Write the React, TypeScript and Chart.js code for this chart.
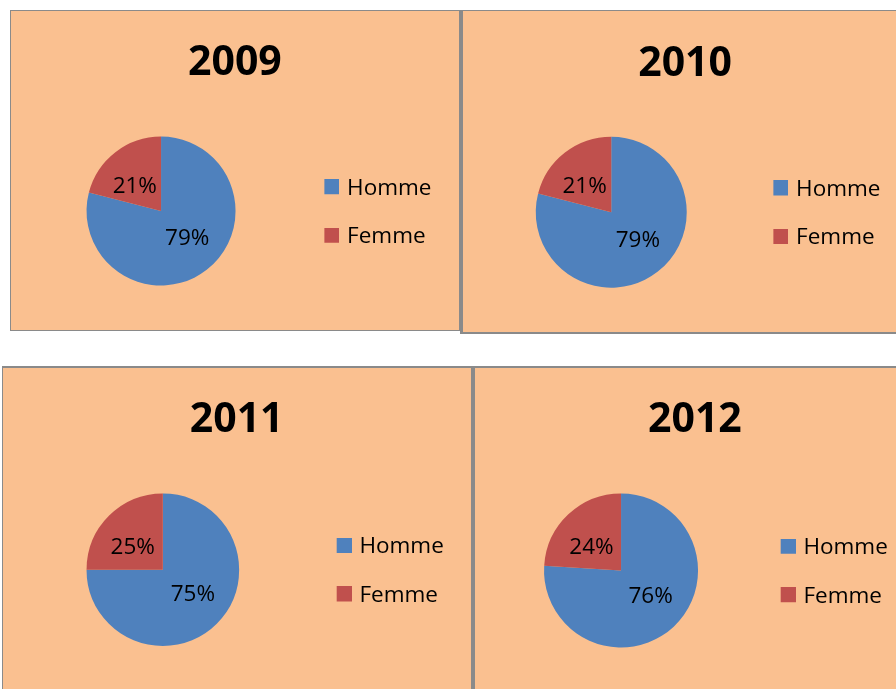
import React, { useEffect, useRef } from 'react';
import { Chart, registerables } from 'chart.js';

Chart.register(...registerables);

// ---- data ----
const years = ['2009', '2010', '2011', '2012'];
const categories = ['Homme', 'Femme'];
const hommePct = [79, 79, 75, 76];
const femmePct = [21, 21, 25, 24];

// ---- styles ----
const sliceColors = ['#4F81BD', '#C0504D'];
const PANEL_BG = '#FAC090';
const BORDER = '#8A8A8A';
const FONT = '"Open Sans", "Noto Sans", sans-serif';
const LABEL_SIZE = 22.5;
const TITLE_SIZE = 41;
const LABEL_ANGLE_SHIFT = (-7 * Math.PI) / 180;
const SWATCH = 15;          // legend square size
const SWATCH_SLOT = 16;     // legend marker slot width
const SWATCH_SHIFT = SWATCH_SLOT / 2 - 4;
const LEGEND_DROP = 3;      // moves legend text down relative to its square

// panel boxes (page layout) and chart paddings
const PANELS = [
  { left: 10, top: 10, w: 448, h: 319, bw: [1, 1, 1, 1], pad: { left: 17.25, right: 17.5, bottom: 44.5 }, titlePad: { top: 28, bottom: 48.3 } },
  { left: 460, top: 10, w: 447, h: 321, bw: [1, 1, 2, 3], pad: { left: 16.65, right: 19.5, bottom: 44.3 }, titlePad: { top: 28.3, bottom: 48.2 } },
  { left: 2, top: 366, w: 468, h: 332, bw: [2, 1, 1, 1], pad: { left: 16.55, right: 17.2, bottom: 54 }, titlePad: { top: 28, bottom: 48.2 } },
  { left: 472, top: 366, w: 448, h: 332, bw: [2, 1, 1, 3], pad: { left: 16.95, right: 25.2, bottom: 52.5 }, titlePad: { top: 28, bottom: 48.3 } },
];

function makeSwatch(color: string): HTMLCanvasElement {
  const c = document.createElement('canvas');
  const w = SWATCH + 2 * SWATCH_SHIFT;
  c.width = w;
  c.height = SWATCH + LEGEND_DROP;
  const g = c.getContext('2d')!;
  g.fillStyle = color;
  g.fillRect(w - SWATCH, 0, SWATCH, SWATCH);
  return c;
}

const sliceLabels = {
  id: 'sliceLabels',
  afterDatasetsDraw(chart: any) {
    const { ctx } = chart;
    const meta = chart.getDatasetMeta(0);
    const values = chart.data.datasets[0].data as number[];
    ctx.save();
    ctx.font = `${LABEL_SIZE}px ${FONT}`;
    ctx.fillStyle = '#000';
    ctx.textAlign = 'center';
    ctx.textBaseline = 'alphabetic';
    const capHalf = (LABEL_SIZE * 0.714) / 2;
    meta.data.forEach((arc: any, i: number) => {
      const { x, y, startAngle, endAngle, outerRadius } = arc.getProps(['x', 'y', 'startAngle', 'endAngle', 'outerRadius'], true);
      const a = (startAngle + endAngle) / 2 + LABEL_ANGLE_SHIFT;
      const d = outerRadius * 0.5;
      ctx.fillText(`${values[i]}%`, x + Math.cos(a) * d, y + Math.sin(a) * d + capHalf);
    });
    ctx.restore();
  },
};

function PiePanel({ index }: { index: number }) {
  const ref = useRef<HTMLCanvasElement | null>(null);
  const p = PANELS[index];
  useEffect(() => {
    let chart: Chart | null = null;
    let cancelled = false;
    const swatches = sliceColors.map(makeSwatch);
    const make = () => {
      if (cancelled || !ref.current) return;
      chart = new Chart(ref.current, {
        type: 'pie',
        data: {
          labels: categories,
          datasets: [
            {
              data: [hommePct[index], femmePct[index]],
              backgroundColor: sliceColors,
              borderWidth: 0,
            },
          ],
        },
        options: {
          responsive: false,
          animation: false,
          events: [],
          layout: { padding: { top: 0, left: p.pad.left, right: p.pad.right, bottom: p.pad.bottom } },
          plugins: {
            tooltip: { enabled: false },
            title: {
              display: true,
              text: years[index],
              color: '#000',
              font: { family: FONT, size: TITLE_SIZE, weight: 'bold', lineHeight: 1.2 },
              padding: { top: p.titlePad.top, bottom: p.titlePad.bottom },
              fullSize: true,
            },
            legend: {
              display: true,
              position: 'right',
              fullSize: false,
              align: 'center',
              title: {
                display: true,
                text: '',
                padding: 0,
                font: { size: LEGEND_DROP, lineHeight: 1 },
              },
              labels: {
                usePointStyle: true,
                pointStyleWidth: SWATCH_SLOT,
                boxHeight: SWATCH,
                padding: 26,
                color: '#000',
                font: { family: FONT, size: LABEL_SIZE },
                generateLabels: (c: any) =>
                  (c.data.labels as string[]).map((label, i) => ({
                    text: label,
                    fillStyle: sliceColors[i],
                    strokeStyle: sliceColors[i],
                    lineWidth: 0,
                    pointStyle: swatches[i],
                    fontColor: '#000',
                    hidden: false,
                    index: i,
                  })),
              },
            },
          },
        },
        plugins: [sliceLabels],
      } as any);
    };
    const fonts = (document as any).fonts;
    if (fonts && fonts.load) {
      Promise.all([
        fonts.load(`bold ${TITLE_SIZE}px "Open Sans"`),
        fonts.load(`${LABEL_SIZE}px "Open Sans"`),
      ]).then(make, make);
    } else {
      make();
    }
    return () => {
      cancelled = true;
      if (chart) chart.destroy();
    };
  }, [index]);

  const [bt, br, bb, bl] = p.bw;
  return (
    <div
      style={{
        position: 'absolute',
        left: p.left,
        top: p.top,
        width: p.w,
        height: p.h,
        background: PANEL_BG,
        borderStyle: 'solid',
        borderColor: BORDER,
        borderWidth: `${bt}px ${br}px ${bb}px ${bl}px`,
        boxSizing: 'content-box',
      }}
    >
      <canvas ref={ref} width={p.w} height={p.h} style={{ display: 'block', width: p.w, height: p.h }} />
    </div>
  );
}

export default function App() {
  return (
    <div
      style={{
        position: 'absolute',
        left: 0,
        top: 0,
        width: 896,
        height: 689,
        overflow: 'hidden',
        background: '#fff',
      }}
    >
      {years.map((y, i) => (
        <PiePanel key={y} index={i} />
      ))}
    </div>
  );
}
